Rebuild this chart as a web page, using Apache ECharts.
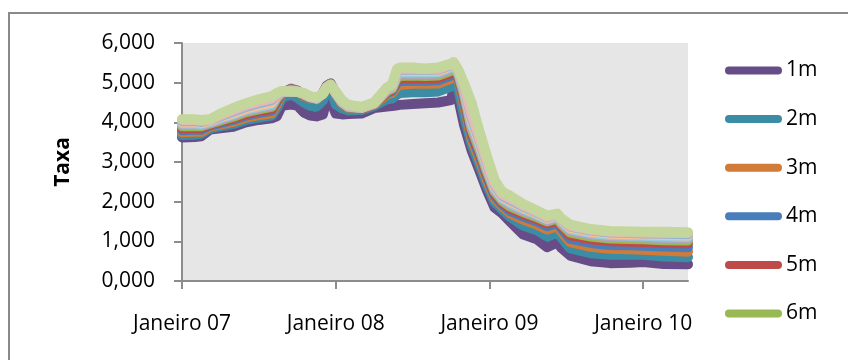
<!DOCTYPE html>
<html>
<head>
<meta charset="utf-8">
<script src="https://cdn.jsdelivr.net/npm/echarts@6/dist/echarts.min.js"></script>
<style>
  html, body { margin: 0; padding: 0; background: #fff; }
  #chart { width: 848px; height: 360px; }
</style>
</head>
<body>
<div id="chart"></div>
<script>
// x positions: months counted from Janeiro 2007
const months = [0, 1, 1.5, 2.2, 3, 4, 5, 6, 7, 7.4, 7.8, 8.5, 9, 9.5, 10, 10.5, 11, 11.3, 11.6, 12,
  12.5, 13, 14, 15, 16, 16.4, 16.8, 17, 18, 19, 20, 21, 21.2, 21.6, 22, 22.6, 23.2, 23.8, 24.4, 25,
  25.6, 26.6, 27.7, 28.5, 29.3, 29.6, 30.3, 31.9, 33.4, 35, 36, 37.6, 39.5];

const xLabels = ["Janeiro 07", "Janeiro 08", "Janeiro 09", "Janeiro 10"];
const yTicks = [0, 1, 2, 3, 4, 5, 6];

const r1m = [3.62, 3.63, 3.65, 3.82, 3.85, 3.89, 4.00, 4.06, 4.10, 4.15, 4.42, 4.45, 4.42, 4.25, 4.17, 4.15, 4.20, 4.58, 4.55, 4.22,
  4.20, 4.21, 4.22, 4.36, 4.40, 4.41, 4.43, 4.44, 4.46, 4.48, 4.50, 4.56, 4.85, 4.55, 3.95, 3.30, 2.80, 2.29, 1.85, 1.70,
  1.50, 1.18, 1.05, 0.85, 0.97, 0.84, 0.64, 0.50, 0.45, 0.46, 0.48, 0.43, 0.42];
const r2m = [3.68, 3.69, 3.71, 3.85, 3.90, 3.96, 4.06, 4.12, 4.17, 4.35, 4.62, 4.70, 4.62, 4.50, 4.42, 4.40, 4.55, 4.82, 4.85, 4.45,
  4.35, 4.30, 4.31, 4.42, 4.58, 4.60, 4.70, 4.74, 4.76, 4.76, 4.78, 4.90, 5.05, 4.80, 4.20, 3.45, 2.95, 2.42, 1.98, 1.80,
  1.62, 1.40, 1.28, 1.12, 1.22, 1.10, 0.82, 0.70, 0.66, 0.66, 0.66, 0.62, 0.60];
const r3m = [3.75, 3.76, 3.76, 3.89, 3.94, 4.01, 4.12, 4.18, 4.23, 4.45, 4.72, 4.85, 4.80, 4.66, 4.60, 4.58, 4.72, 4.92, 4.98, 4.72,
  4.45, 4.36, 4.34, 4.45, 4.70, 4.74, 4.90, 4.95, 4.97, 4.97, 4.98, 5.10, 5.25, 5.05, 4.45, 3.58, 3.08, 2.54, 2.08, 1.88,
  1.71, 1.55, 1.42, 1.30, 1.38, 1.25, 0.98, 0.86, 0.81, 0.80, 0.79, 0.76, 0.74];
const r4m = [3.80, 3.81, 3.81, 3.92, 3.98, 4.06, 4.17, 4.24, 4.29, 4.52, 4.74, 4.84, 4.80, 4.68, 4.61, 4.58, 4.73, 4.92, 4.98, 4.72,
  4.47, 4.37, 4.35, 4.46, 4.74, 4.79, 5.00, 5.04, 5.05, 5.05, 5.06, 5.18, 5.30, 5.10, 4.55, 3.68, 3.18, 2.63, 2.15, 1.93,
  1.77, 1.63, 1.50, 1.38, 1.46, 1.33, 1.06, 0.96, 0.91, 0.90, 0.89, 0.87, 0.85];
const r5m = [3.85, 3.86, 3.86, 3.95, 4.02, 4.10, 4.21, 4.28, 4.34, 4.57, 4.75, 4.83, 4.79, 4.69, 4.62, 4.59, 4.73, 4.91, 4.97, 4.72,
  4.48, 4.38, 4.35, 4.46, 4.77, 4.82, 5.08, 5.11, 5.12, 5.11, 5.12, 5.24, 5.35, 5.14, 4.65, 3.76, 3.26, 2.70, 2.21, 1.98,
  1.83, 1.69, 1.56, 1.45, 1.52, 1.39, 1.15, 1.05, 1.00, 0.99, 0.98, 0.96, 0.95];
const r6m = [3.90, 3.90, 3.90, 3.97, 4.05, 4.14, 4.26, 4.33, 4.39, 4.61, 4.76, 4.82, 4.79, 4.70, 4.63, 4.59, 4.73, 4.90, 4.96, 4.72,
  4.49, 4.38, 4.36, 4.47, 4.79, 4.85, 5.14, 5.17, 5.18, 5.17, 5.18, 5.30, 5.40, 5.18, 4.72, 3.84, 3.33, 2.76, 2.26, 2.02,
  1.88, 1.74, 1.61, 1.50, 1.57, 1.44, 1.22, 1.12, 1.07, 1.06, 1.05, 1.03, 1.02];
const r7m = [3.94, 3.94, 3.93, 3.99, 4.08, 4.18, 4.29, 4.36, 4.43, 4.64, 4.76, 4.80, 4.78, 4.71, 4.63, 4.60, 4.73, 4.89, 4.95, 4.73,
  4.50, 4.39, 4.36, 4.47, 4.81, 4.87, 5.19, 5.22, 5.23, 5.22, 5.23, 5.35, 5.44, 5.21, 4.78, 3.91, 3.39, 2.81, 2.30, 2.06,
  1.93, 1.78, 1.65, 1.53, 1.60, 1.48, 1.27, 1.17, 1.12, 1.11, 1.10, 1.08, 1.07];
const r8m = [3.97, 3.97, 3.96, 4.01, 4.11, 4.20, 4.32, 4.39, 4.46, 4.66, 4.77, 4.79, 4.77, 4.72, 4.64, 4.60, 4.72, 4.88, 4.95, 4.74,
  4.51, 4.40, 4.37, 4.48, 4.83, 4.89, 5.23, 5.26, 5.27, 5.26, 5.27, 5.39, 5.47, 5.24, 4.83, 3.98, 3.45, 2.86, 2.34, 2.09,
  1.97, 1.82, 1.68, 1.56, 1.63, 1.51, 1.31, 1.21, 1.16, 1.15, 1.14, 1.12, 1.11];
const r9m = [4.00, 4.00, 3.99, 4.03, 4.13, 4.23, 4.35, 4.43, 4.50, 4.68, 4.77, 4.78, 4.77, 4.72, 4.64, 4.61, 4.72, 4.88, 4.94, 4.75,
  4.52, 4.41, 4.37, 4.48, 4.84, 4.91, 5.27, 5.29, 5.30, 5.29, 5.30, 5.42, 5.49, 5.26, 4.88, 4.05, 3.51, 2.91, 2.38, 2.12,
  2.01, 1.85, 1.71, 1.58, 1.65, 1.53, 1.34, 1.24, 1.19, 1.18, 1.17, 1.16, 1.15];
const r10m = [4.03, 4.03, 4.01, 4.05, 4.15, 4.27, 4.39, 4.48, 4.56, 4.69, 4.77, 4.78, 4.77, 4.73, 4.65, 4.61, 4.72, 4.88, 4.94, 4.76,
  4.53, 4.42, 4.38, 4.49, 4.85, 4.92, 5.30, 5.32, 5.33, 5.32, 5.33, 5.44, 5.50, 5.27, 4.92, 4.12, 3.57, 2.96, 2.42, 2.15,
  2.05, 1.88, 1.73, 1.60, 1.67, 1.55, 1.37, 1.27, 1.22, 1.21, 1.20, 1.19, 1.18];
const r11m = [4.06, 4.06, 4.04, 4.06, 4.18, 4.31, 4.43, 4.52, 4.60, 4.71, 4.78, 4.78, 4.77, 4.73, 4.65, 4.62, 4.72, 4.88, 4.94, 4.77,
  4.54, 4.43, 4.38, 4.49, 4.87, 4.94, 5.33, 5.35, 5.35, 5.34, 5.35, 5.46, 5.51, 5.29, 4.96, 4.20, 3.63, 3.01, 2.46, 2.18,
  2.09, 1.91, 1.75, 1.62, 1.68, 1.56, 1.39, 1.29, 1.24, 1.23, 1.22, 1.21, 1.21];
const r12m = [4.08, 4.08, 4.06, 4.08, 4.22, 4.36, 4.48, 4.58, 4.66, 4.74, 4.79, 4.78, 4.77, 4.74, 4.66, 4.62, 4.72, 4.88, 4.94, 4.78,
  4.55, 4.44, 4.39, 4.50, 4.88, 4.95, 5.35, 5.38, 5.38, 5.36, 5.38, 5.48, 5.52, 5.30, 5.00, 4.50, 3.80, 3.15, 2.55, 2.25,
  2.15, 1.95, 1.78, 1.65, 1.70, 1.58, 1.42, 1.31, 1.26, 1.25, 1.24, 1.24, 1.23];

const seriesNames = ["1m", "2m", "3m", "4m", "5m", "6m", "7m", "8m", "9m", "10m", "11m", "12m"];
const seriesValues = [r1m, r2m, r3m, r4m, r5m, r6m, r7m, r8m, r9m, r10m, r11m, r12m];
const legendNames = seriesNames.slice(0, 6);

// excel 2007 style palette
const colors = ["#664D88", "#3A8DA4", "#D27A37", "#4A7EBB", "#BE4B48", "#98B954",
  "#B3A2C7", "#93CDDD", "#FAC090", "#95B3D7", "#E6B9B8", "#C3D69B"];

const FONT = "Open Sans";

const chart = echarts.init(document.getElementById("chart"));

const option = {
  animation: false,
  backgroundColor: "#ffffff",
  graphic: [
    {
      type: "rect",
      shape: { x: 9, y: 13, width: 860, height: 360 },
      style: { fill: "none", stroke: "#8a8a8a", lineWidth: 2 },
      silent: true
    }
  ],
  grid: {
    left: 182,
    right: 160,
    top: 43,
    bottom: 79,
    show: true,
    backgroundColor: "#E6E6E6",
    borderWidth: 0
  },
  legend: {
    data: legendNames,
    orient: "vertical",
    left: 720,
    top: 55,
    itemWidth: 57,
    itemHeight: 8,
    itemGap: 27.6,
    icon: "path://M4,0 L53,0 A4,4 0 0 1 53,8 L4,8 A4,4 0 0 1 4,0 Z",
    textStyle: { fontFamily: FONT, fontSize: 21, color: "#000", lineHeight: 20, padding: [0, 0, 0, -1] }
  },
  xAxis: {
    type: "value",
    min: 0,
    max: 39.5,
    interval: 12,
    splitLine: { show: false },
    axisLine: { show: true, lineStyle: { color: "#8c8c8c", width: 2 } },
    axisTick: { show: true, length: 8, lineStyle: { color: "#8c8c8c", width: 2 } },
    axisLabel: {
      margin: 33,
      fontFamily: FONT,
      fontSize: 21,
      color: "#000",
      showMaxLabel: false,
      formatter: v => (v % 12 === 0 ? xLabels[v / 12] || "" : "")
    }
  },
  yAxis: {
    type: "value",
    min: yTicks[0],
    max: yTicks[yTicks.length - 1],
    interval: 1,
    name: "Taxa",
    nameLocation: "middle",
    nameGap: 108,
    nameRotate: 90,
    nameTextStyle: { fontFamily: FONT, fontSize: 21, fontWeight: "bold", color: "#000" },
    splitLine: { show: false },
    axisLine: { show: true, lineStyle: { color: "#8c8c8c", width: 2 } },
    axisTick: { show: true, length: 8, lineStyle: { color: "#8c8c8c", width: 2 } },
    axisLabel: {
      margin: 27,
      fontFamily: FONT,
      fontSize: 21,
      color: "#000",
      formatter: v => v.toFixed(3).replace(".", ",")
    }
  },
  series: seriesNames.map((name, k) => ({
    name: name,
    type: "line",
    data: months.map((m, i) => [m, seriesValues[k][i]]),
    showSymbol: false,
    symbol: "none",
    color: colors[k],
    lineStyle: { width: 10, color: colors[k], cap: "round", join: "round" }
  }))
};

chart.setOption(option);
</script>
</body>
</html>
